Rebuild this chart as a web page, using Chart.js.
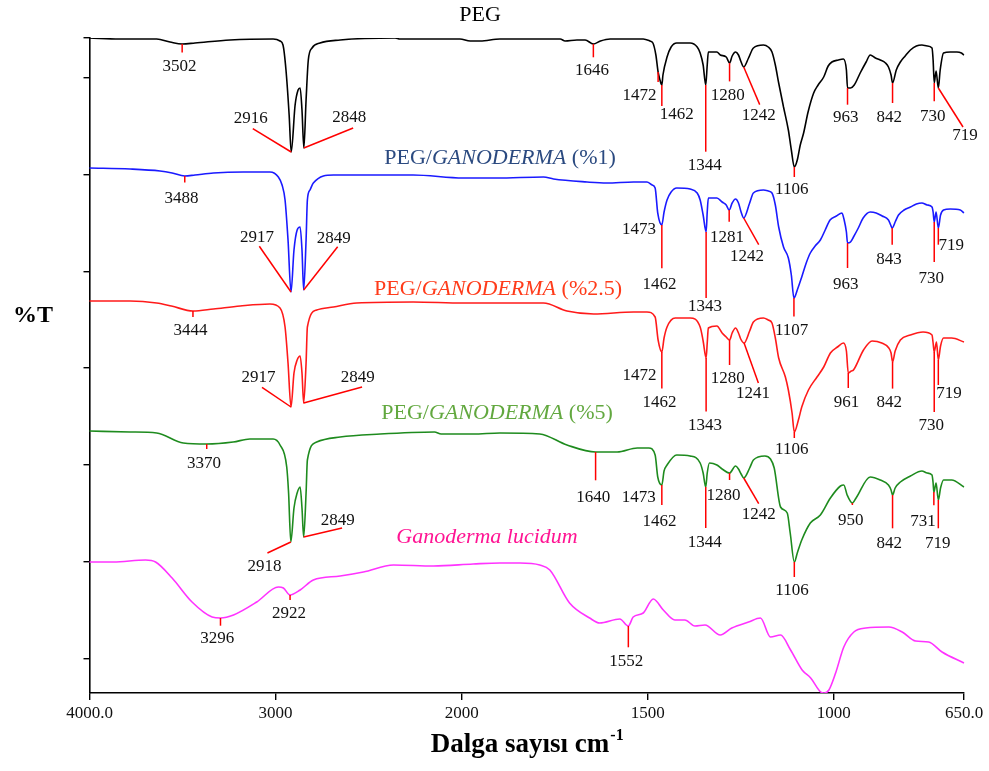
<!DOCTYPE html>
<html><head><meta charset="utf-8">
<script src="https://cdn.jsdelivr.net/npm/chart.js@4.4.0/dist/chart.umd.min.js"></script>
<style>html,body{margin:0;padding:0;background:#fff;}#wrap{width:989px;height:771px;}</style>
</head><body><div id="wrap"><canvas id="c" width="989" height="771"></canvas></div>
<script>
// ---------- axis definitions ----------
const X_MAX = 4000, X_MIN = 650, X_BREAK = 2000, X_EXPAND = 2;
const X_TICKS = [4000, 3000, 2000, 1500, 1000, 650];
const X_TICK_LABELS = ['4000.0', '3000', '2000', '1500', '1000', '650.0'];
const Y_MIN = 0, Y_MAX = 655;
const Y_TICKS = [34, 131, 228, 325, 421, 518, 615, 655];

// ---------- spectra (wavenumber cm-1, offset transmittance) ----------
const PEG_WN = [4000,3836,3639,3567,3502,3433,3245,3013,2976,2960,2944,2927,2916,2895,2879,2868,2858,2848,2836,2824,2804,2761,2653,2358,2331,2009,1977,1950,1897,1735,1722,1690,1668,1646,1627,1601,1512,1494,1486,1478,1472,1467,1462,1459,1448,1437,1422,1386,1367,1359,1351,1344,1340,1337,1314,1305,1289,1280,1273,1264,1256,1250,1242,1229,1216,1189,1176,1166,1157,1148,1135,1122,1114,1106,1098,1090,1081,1069,1054,1042,1027,1015,1005,988,974,966,963,955,945,929,913,902,888,875,861,853,846,842,832,821,808,794,778,763,749,736,733,730,725,719,714,705,687,669,657,650];
const PEG_T  = [655,654,654,651,649,650,653,654,652,648,623,578,541,588,603,605,583,545,593,633,645,650,653,655,654,654,652,652,654,654,652,653,653,649,652,654,654,652,650,638,621,613,608,618,636,646,650,650,646,640,628,608,628,641,641,638,636,630,637,641,638,632,626,635,645,648,646,641,628,610,586,563,543,526,533,548,560,581,600,608,616,627,631,633,634,623,605,605,608,620,631,638,635,633,630,626,618,610,623,631,637,643,647,648,647,645,633,610,622,605,623,640,641,641,640,638];

const G1_WN = [4000,3782,3621,3556,3488,3433,3334,3173,3030,2985,2965,2949,2933,2917,2901,2884,2868,2858,2849,2836,2829,2815,2797,2689,2261,1996,1905,1780,1753,1663,1610,1538,1502,1488,1480,1473,1462,1456,1448,1437,1422,1386,1367,1359,1351,1343,1340,1337,1314,1300,1289,1281,1273,1264,1256,1249,1242,1226,1216,1189,1176,1166,1157,1148,1135,1122,1114,1107,1098,1086,1074,1063,1050,1036,1023,1010,993,978,972,966,963,955,947,934,921,902,886,870,853,847,843,835,826,811,794,778,763,749,736,733,730,725,719,713,705,687,660,650];
const G1_T  = [525,524,522,520,517,518,520,521,521,516,508,493,453,401,443,463,466,443,403,453,493,503,510,518,518,515,515,516,514,511,510,511,511,508,505,480,468,481,493,501,505,504,500,493,478,461,481,495,495,491,488,483,490,494,490,481,475,490,500,503,502,500,488,466,446,435,418,395,403,416,430,440,447,453,463,473,477,480,473,461,450,451,456,465,475,481,480,477,473,468,465,471,478,483,486,489,490,488,486,481,471,481,465,478,483,484,483,480];

const G25_WN = [4000,3782,3639,3560,3444,3334,3190,3030,2976,2949,2933,2917,2901,2884,2868,2858,2849,2836,2829,2779,2689,2564,2261,1996,1905,1780,1717,1645,1538,1502,1480,1472,1462,1456,1448,1426,1386,1359,1351,1343,1340,1337,1314,1300,1289,1280,1273,1264,1256,1250,1241,1226,1216,1189,1176,1166,1157,1148,1130,1122,1112,1106,1095,1086,1068,1045,1027,1009,990,974,966,961,953,947,920,897,871,852,846,842,835,821,794,760,736,733,730,724,719,713,705,683,650];
const G25_T  = [392,392,390,387,382,384,387,389,385,366,330,286,320,333,337,320,290,330,366,383,386,390,391,390,390,390,382,379,381,381,376,353,341,355,366,375,375,366,352,335,350,365,367,360,356,353,360,365,360,354,350,362,371,375,373,370,355,335,316,303,280,261,273,286,303,316,326,340,346,350,342,320,322,323,343,352,350,345,340,331,342,353,358,361,358,350,341,351,333,347,355,355,351];

const G5_WN = [4000,3782,3639,3496,3370,3228,3138,3013,2976,2940,2930,2918,2901,2884,2868,2858,2849,2836,2829,2779,2653,2438,2146,2110,1969,1897,1790,1717,1640,1582,1528,1497,1480,1473,1462,1456,1448,1422,1386,1359,1351,1344,1340,1334,1314,1300,1280,1264,1256,1249,1242,1226,1216,1185,1170,1160,1143,1125,1117,1106,1098,1086,1063,1036,1009,982,973,964,950,940,902,875,853,846,842,835,821,794,763,749,736,733,731,725,719,713,705,683,650];
const G5_T  = [262,261,260,250,249,251,254,254,248,226,200,151,185,200,206,185,156,200,233,251,256,259,261,259,259,260,259,248,241,241,245,245,238,216,208,222,228,238,237,230,220,206,220,230,228,224,220,227,224,219,215,225,233,237,234,225,186,180,160,131,140,153,170,178,195,207,208,198,190,195,216,213,208,203,198,205,211,217,222,220,218,210,201,210,193,205,213,213,206];

const GL_WN = [4000,3872,3699,3645,3556,3449,3341,3296,3226,3101,2985,2958,2922,2868,2797,2653,2528,2366,2151,1969,1897,1843,1790,1763,1710,1656,1629,1575,1552,1539,1512,1485,1458,1427,1400,1373,1346,1305,1274,1229,1197,1170,1143,1116,1085,1062,1035,1026,1013,995,973,946,914,852,816,780,745,709,650];
const GL_T  = [131,131,133,131,115,91,76,75,78,91,106,105,98,103,113,117,121,128,127,129,130,130,128,123,90,75,70,74,67,76,80,94,83,73,73,67,68,58,65,71,75,56,58,43,23,15,1,0,3,20,46,61,65,66,61,52,51,41,30];

// ---------- series names and peak labels ----------
const SERIES_NAMES = [
  [{t:'PEG', i:false}],
  [{t:'PEG/', i:false}, {t:'GANODERMA', i:true}, {t:' (%1)', i:false}],
  [{t:'PEG/', i:false}, {t:'GANODERMA', i:true}, {t:' (%2.5)', i:false}],
  [{t:'PEG/', i:false}, {t:'GANODERMA', i:true}, {t:' (%5)', i:false}],
  [{t:'Ganoderma lucidum', i:true}]
];
const PEG_PEAKS = [3502, 2916, 2848, 1646, 1472, 1462, 1344, 1280, 1242, 1106, 963, 842, 730, 719];
const G1_PEAKS  = [3488, 2917, 2849, 1473, 1462, 1343, 1281, 1242, 1107, 963, 843, 730, 719];
const G25_PEAKS = [3444, 2917, 2849, 1472, 1462, 1343, 1280, 1241, 1106, 961, 842, 730, 719];
const G5_PEAKS  = [3370, 2918, 2849, 1640, 1473, 1462, 1344, 1280, 1242, 1106, 950, 842, 731, 719];
const GL_PEAKS  = [3296, 2922, 1552];

// ---------- layout (pixel offsets of leader line end and label centre from the peak) ----------
const PEG_LAYOUT = [[0,8.5,-2.7,22.2],[-38.4,-23.4,-40.4,-33.4],[49.3,-20,45.3,-30],[0,13.3,-1.3,27],[0,10,-18.7,24],[0,21,15,30],[0,66.7,-1,80.7],[0,18.4,-1.7,32.4],[16,37.6,15,48.3],[0,10,-2.6,22.3],[0,16.7,-1.7,30],[0,20,-3.3,35],[0,18.3,-1.6,33.3],[24.7,39,26.7,47.4]];
const G1_LAYOUT = [[0,6.6,-3.3,22.3],[-31.7,-45.7,-34,-54],[34,-43.3,30,-51.6],[0,0,-18.7,16.7],[0,43.3,-2.4,60],[0,66,-1,74.3],[0,11.7,-2.3,27.3],[15,26.7,3.3,39],[0,18.4,-2.3,32.4],[0,25,-1.7,41.7],[0,16.7,-3.3,31.7],[0,40,-3,56.7],[0,16.7,13,17.5]];
const G25_LAYOUT = [[0,6,-2.4,20],[-29,-19.6,-32.4,-29],[58.4,-16,54,-25],[0,0,-18.7,35.7],[0,36.6,-2.4,50.6],[0,53.4,-1,67.4],[0,25,-1.7,38.3],[14.3,40,9,50.7],[0,6,-2.6,17.3],[0,15,-1.7,29.4],[0,26.6,-3.3,41],[0,60,-3,74],[0,25,10.6,34]];
const G5_LAYOUT = [[0,5,-2.7,19.3],[-23.4,11,-26.4,25],[38.4,-9,34,-16.6],[0,28.3,-2.3,45.6],[0,0,-19,20.6],[0,20,-2.4,36.7],[0,41,-1,56],[0,7,-6,22.7],[15,25.7,15,36.7],[0,15,-2.3,28.3],[0,2,-1.7,17.4],[0,33.3,-3.3,48.3],[0,13.3,-10.8,30],[0,28.3,-0.6,43.3]];
const GL_LAYOUT = [[0,7.7,-3.3,21],[0,5,-1,19],[0,21.3,-2,35.7]];
const NAME_POS = [[480,15],[500,158],[498,289],[497,413],[487,537]];
const NAME_COLORS = ['#000000','#2B4A80','#FF3B1A','#62A83F','#FF1493'];
const LINE_COLORS = ['#000000','#1A1AFF','#FF1A1A','#1E8B1E','#FF33FF'];
const SERIF = '"Liberation Serif","Times New Roman",serif';

const SPECTRA = [
  {wn: PEG_WN, t: PEG_T, peaks: PEG_PEAKS, layout: PEG_LAYOUT},
  {wn: G1_WN, t: G1_T, peaks: G1_PEAKS, layout: G1_LAYOUT},
  {wn: G25_WN, t: G25_T, peaks: G25_PEAKS, layout: G25_LAYOUT},
  {wn: G5_WN, t: G5_T, peaks: G5_PEAKS, layout: G5_LAYOUT},
  {wn: GL_WN, t: GL_T, peaks: GL_PEAKS, layout: GL_LAYOUT}
];

// ---------- custom wavenumber scale (scale doubled below 2000 cm-1) ----------
class WavenumberScale extends Chart.LinearScale {
  static id = 'wavenumber';
  static defaults = {};
  determineDataLimits() { this.min = X_MIN; this.max = X_MAX; }
  buildTicks() { return X_TICKS.map(v => ({value: v})); }
  _u(v) { return v >= X_BREAK ? (X_MAX - v) : (X_MAX - X_BREAK) + X_EXPAND * (X_BREAK - v); }
  getPixelForValue(v) {
    if (v === null || v === undefined || isNaN(v)) return NaN;
    return this.getPixelForDecimal(this._u(v) / this._u(X_MIN));
  }
  getValueForPixel(p) {
    const u = this.getDecimalForPixel(p) * this._u(X_MIN);
    const uB = X_MAX - X_BREAK;
    return u <= uB ? X_MAX - u : X_BREAK - (u - uB) / X_EXPAND;
  }
}
Chart.register(WavenumberScale);

function interp(xs, ys, v) {
  for (let i = 0; i < xs.length - 1; i++) {
    const a = xs[i], b = xs[i + 1];
    if ((v <= a && v >= b) || (v >= a && v <= b)) {
      if (a === b) return ys[i];
      return ys[i] + (ys[i + 1] - ys[i]) * (v - a) / (b - a);
    }
  }
  return ys[ys.length - 1];
}

const textPlugin = {
  id: 'ftirText',
  afterDatasetsDraw(chart) {
    const ctx = chart.ctx, xs = chart.scales.x, ys = chart.scales.y;
    ctx.save();
    // peak leader lines + labels
    SPECTRA.forEach(s => {
      s.peaks.forEach((wn, i) => {
        const L = s.layout[i];
        const ax = xs.getPixelForValue(wn);
        const ay = ys.getPixelForValue(interp(s.wn, s.t, wn));
        if (L[0] !== 0 || L[1] !== 0) {
          ctx.strokeStyle = '#FF0000'; ctx.lineWidth = 1.5;
          ctx.beginPath(); ctx.moveTo(ax, ay); ctx.lineTo(ax + L[0], ay + L[1]); ctx.stroke();
        }
        ctx.fillStyle = '#111'; ctx.font = '17px ' + SERIF;
        ctx.textAlign = 'center'; ctx.textBaseline = 'middle';
        ctx.fillText(String(wn), ax + L[2], ay + L[3]);
      });
    });
    // series names
    SERIES_NAMES.forEach((parts, k) => {
      const fonts = parts.map(p => (p.i ? 'italic ' : '') + '22px ' + SERIF);
      let total = 0;
      const widths = parts.map((p, j) => { ctx.font = fonts[j]; const w = ctx.measureText(p.t).width; total += w; return w; });
      let x = NAME_POS[k][0] - total / 2;
      ctx.textAlign = 'left'; ctx.textBaseline = 'middle'; ctx.fillStyle = NAME_COLORS[k];
      parts.forEach((p, j) => { ctx.font = fonts[j]; ctx.fillText(p.t, x, NAME_POS[k][1]); x += widths[j]; });
    });
    // y title
    ctx.fillStyle = '#000'; ctx.font = 'bold 24px ' + SERIF; ctx.textAlign = 'center'; ctx.textBaseline = 'middle';
    ctx.fillText('%T', 33, 316);
    // x title with superscript
    const main = 'Dalga sayısı cm', sup = '-1';
    ctx.font = 'bold 27px ' + SERIF; const w1 = ctx.measureText(main).width;
    ctx.font = 'bold 16px ' + SERIF; const w2 = ctx.measureText(sup).width;
    const cx = (chart.chartArea.left + chart.chartArea.right) / 2;
    let x0 = cx - (w1 + w2) / 2;
    ctx.textAlign = 'left'; ctx.textBaseline = 'alphabetic';
    ctx.font = 'bold 27px ' + SERIF; ctx.fillText(main, x0, 752);
    ctx.font = 'bold 16px ' + SERIF; ctx.fillText(sup, x0 + w1 + 1, 740);
    ctx.restore();
  }
};

const datasets = SPECTRA.map((s, k) => ({
  data: s.wn.map((w, i) => ({x: w, y: s.t[i]})),
  borderColor: LINE_COLORS[k],
  borderWidth: 1.6,
  pointRadius: 0,
  fill: false,
  cubicInterpolationMode: 'monotone'
}));

new Chart(document.getElementById('c'), {
  type: 'line',
  data: {datasets},
  plugins: [textPlugin],
  options: {
    responsive: false,
    animation: false,
    events: [],
    layout: {padding: {top: 38, right: 25, bottom: 0, left: 0}},
    plugins: {legend: {display: false}, tooltip: {enabled: false}, title: {display: false}},
    scales: {
      x: {
        type: 'wavenumber',
        afterFit: s => { s.height = 78; },
        border: {display: true, color: '#000', width: 1.6},
        grid: {display: true, drawOnChartArea: false, drawTicks: true, tickLength: 7, color: '#000', lineWidth: 1.4},
        ticks: {
          autoSkip: false, maxRotation: 0, padding: 3, color: '#111',
          font: {family: SERIF, size: 17},
          callback: (v) => X_TICK_LABELS[X_TICKS.indexOf(v)]
        }
      },
      y: {
        type: 'linear', min: Y_MIN, max: Y_MAX,
        afterFit: s => { s.width = 89.5; },
        afterBuildTicks: s => { s.ticks = Y_TICKS.map(v => ({value: v})); },
        border: {display: true, color: '#000', width: 1.6},
        grid: {display: true, drawOnChartArea: false, drawTicks: true, tickLength: 6, color: '#000', lineWidth: 1.4},
        ticks: {display: false}
      }
    }
  }
});
</script></body></html>
